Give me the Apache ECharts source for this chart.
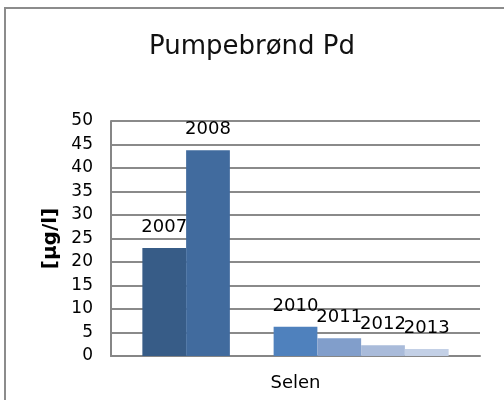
<!DOCTYPE html>
<html>
<head>
<meta charset="utf-8">
<script src="https://cdn.jsdelivr.net/npm/echarts@6/dist/echarts.min.js"></script>
<style>
html, body { margin: 0; padding: 0; background: #fff; }
#chart { width: 504px; height: 400px; }
</style>
</head>
<body>
<div id="chart"></div>
<script>
// data
var categories = ['Selen'];
var years = ['2007', '2008', '2009', '2010', '2011', '2012', '2013'];
var values = [23, 43.8, null, 6.2, 3.8, 2.3, 1.5];
var colors = ['#375c87', '#416b9e', '#4a79b0', '#4f81bd', '#819ecb', '#a9bbda', '#c3d0e6'];
var yTicks = [0, 50, 5];

var font = 'DejaVu Sans, Verdana, sans-serif';

var series = [];
for (var i = 0; i < years.length; i++) {
    series.push({
        name: years[i],
        type: 'bar',
        barGap: '0%',
        barCategoryGap: '17%',
        itemStyle: { color: colors[i] },
        label: {
            show: true,
            position: 'top',
            distance: 12,
            formatter: '{a}',
            color: '#000',
            fontFamily: font,
            fontSize: 18
        },
        data: [values[i] == null ? '-' : values[i]]
    });
}

var chart = echarts.init(document.getElementById('chart'));
chart.setOption({
    animation: false,
    backgroundColor: '#fff',
    title: {
        text: 'Pumpebrønd Pd',
        left: 'center',
        top: 29,
        textStyle: { fontFamily: font, fontSize: 26, fontWeight: 'normal', color: '#111' }
    },
    graphic: [{
        type: 'rect',
        shape: { x: 5, y: 8, width: 540, height: 440 },
        style: { fill: 'none', stroke: '#8c8c8c', lineWidth: 2 },
        silent: true
    }],
    grid: { left: 111, right: 24, top: 121, bottom: 44 },
    xAxis: {
        type: 'category',
        data: categories,
        axisTick: { show: false },
        axisLine: { lineStyle: { color: '#868686', width: 2 } },
        axisLabel: { color: '#000', fontFamily: font, fontSize: 18, margin: 18 }
    },
    yAxis: {
        type: 'value',
        min: yTicks[0],
        max: yTicks[1],
        interval: yTicks[2],
        name: '[µg/l]',
        nameLocation: 'middle',
        nameGap: 47,
        nameTextStyle: { color: '#000', fontFamily: font, fontSize: 20, fontWeight: 'bold' },
        axisLine: { show: true, lineStyle: { color: '#868686', width: 2 } },
        axisTick: { show: false },
        axisLabel: { color: '#000', fontFamily: font, fontSize: 17, margin: 18 },
        splitLine: { lineStyle: { color: '#8a8a8a', width: 2 } }
    },
    series: series
});
</script>
</body>
</html>
